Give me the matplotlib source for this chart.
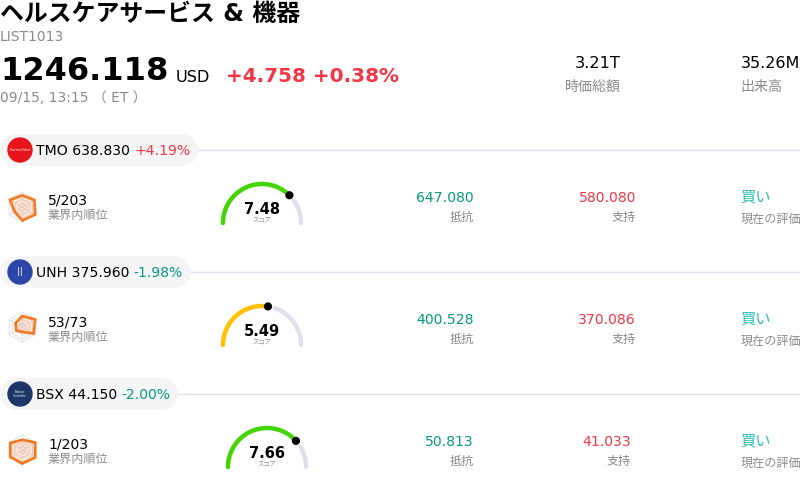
import numpy as np
import matplotlib
matplotlib.use("Agg")
import matplotlib.pyplot as plt
from matplotlib.patches import Circle, Polygon

plt.rcParams['font.family'] = ['DejaVu Sans', 'Noto Sans CJK JP']

title = "ヘルスケアサービス & 機器"
code = "LIST1013"
price = "1246.118"
change = "+4.758 +0.38%"
stamp = "09/15, 13:15 （ ET ）"
tickers = ["TMO", "UNH", "BSX"]
prices = ["638.830", "375.960", "44.150"]
changes = ["+4.19%", "-1.98%", "-2.00%"]
ranks = ["5/203", "53/73", "1/203"]
scores = [7.48, 5.49, 7.66]
resist = ["647.080", "400.528", "50.813"]
support = ["580.080", "370.086", "41.033"]
logo_colors = ["#e8141c", "#2b46a8", "#1c3668"]
logo_text = ["Thermo Fisher", "||", "Boston\nScientific"]
radars = [[.78, .93, 1.0, .9, .6, .95], [.73, 1.0, .87, .33, .47, .52], [.68, 1.0, 1.0, .9, .93, .93]]
pill_ends = [198, 191, 178]

RED, GREEN, GREY = "#f23645", "#089981", "#8a8a8a"
fig = plt.figure(figsize=(8, 4.88), dpi=100)
ax = fig.add_axes([0, 0, 1, 1])
ax.set_xlim(0, 800); ax.set_ylim(488, 0); ax.axis("off")
T = lambda x, y, s, size=10, c="black", ha="left", w="normal": ax.text(x, y, s, fontsize=size, color=c, ha=ha, va="center", fontweight=w, zorder=6)

T(0, 14, title, 17.2, w="bold")
T(0, 37, code, 10, GREY)
T(0, 72, price, 23, w="bold")
T(176, 77, "USD", 11.6)
T(226, 76, change, 14.45, RED, w="bold")
T(0, 98, stamp, 10, GREY)
T(621, 63, "3.21T", 11.6, ha="right"); T(621, 87, "時価総額", 10.1, GREY, "right")
T(740.5, 63, "35.26M", 11.5); T(740.5, 87, "出来高", 10.1, GREY)

for i, y0 in enumerate([150, 272, 394]):
    dx = 5 if i == 2 else 0
    ax.plot([0, 800], [y0, y0], color="#e0e0ec", lw=1, zorder=1)
    ax.plot([16, pill_ends[i] - 16], [y0, y0], color="#f5f5f6", lw=23, solid_capstyle="round", zorder=2)
    ax.add_patch(Circle((20, y0), 12, color=logo_colors[i], zorder=3))
    T(20, y0, logo_text[i], 2.2 if i != 1 else 6, "white", "center").set_linespacing(1)
    t = T(36, y0 + 1, f"{tickers[i]} {prices[i]} ", 10.1)
    fig.canvas.draw()
    xe = t.get_window_extent().x1
    T(xe, y0 + 1, changes[i], 10.1, RED if changes[i][0] == "+" else GREEN)

    cx, cy = 22.3, y0 + 57 - (i == 1) * 2 - (i == 2) * 1
    ang = np.pi / 2 - np.arange(6) * np.pi / 3
    for r in [4, 8, 12, 15]:
        ax.add_patch(Polygon(np.c_[cx + r * np.cos(ang), cy - r * np.sin(ang)], fill=False, ec="#e2e2e8", lw=.8, zorder=3))
    for a in ang:
        ax.plot([cx, cx + 15 * np.cos(a)], [cy, cy - 15 * np.sin(a)], color="#e2e2e8", lw=.6, zorder=3)
    v = np.array(radars[i]) * 15
    ax.add_patch(Polygon(np.c_[cx + v * np.cos(ang), cy - v * np.sin(ang)], fc="#f7702030", ec="#f47a1f", lw=1.9, zorder=4))
    T(48, y0 + 50, ranks[i], 10.1); T(48, y0 + 65, "業界内順位", 8.7, GREY)

    gx, gy, R = 262 + dx, y0 + 73, 39
    frac = scores[i] / 10
    col = "#44d400" if scores[i] >= 7 else "#ffc000"
    a0 = np.pi * (1 - frac)
    th1 = np.linspace(np.pi, a0 + .12, 80)
    th2 = np.linspace(a0 - .18, 0, 80)
    ax.plot(gx + R * np.cos(th2), gy - R * np.sin(th2), color="#e0e0ec", lw=3.2, solid_capstyle="round")
    ax.plot(gx + R * np.cos(th1), gy - R * np.sin(th1), color=col, lw=3.2, solid_capstyle="round")
    ax.add_patch(Circle((gx + R * np.cos(a0), gy - R * np.sin(a0)), 3.4, color="black", zorder=5))
    T(gx, y0 + 60, f"{scores[i]:.2f}", 10.5, ha="center", w="bold")
    T(gx, y0 + 71, "スコア", 4.5, GREY, "center")

    T(474, y0 + 48, resist[i], 10.1, GREEN, "right"); T(474, y0 + 67, "抵抗", 8.7, GREY, "right")
    xs = 636 - dx
    T(xs, y0 + 48, support[i], 10.1, RED, "right"); T(xs, y0 + 67, "支持", 8.7, GREY, "right")
    T(740.5, y0 + 47, "買い", 11, "#2bbfae"); T(740.5, y0 + 69, "現在の評価", 8.7, GREY)

fig.savefig("out.png", dpi=100)
